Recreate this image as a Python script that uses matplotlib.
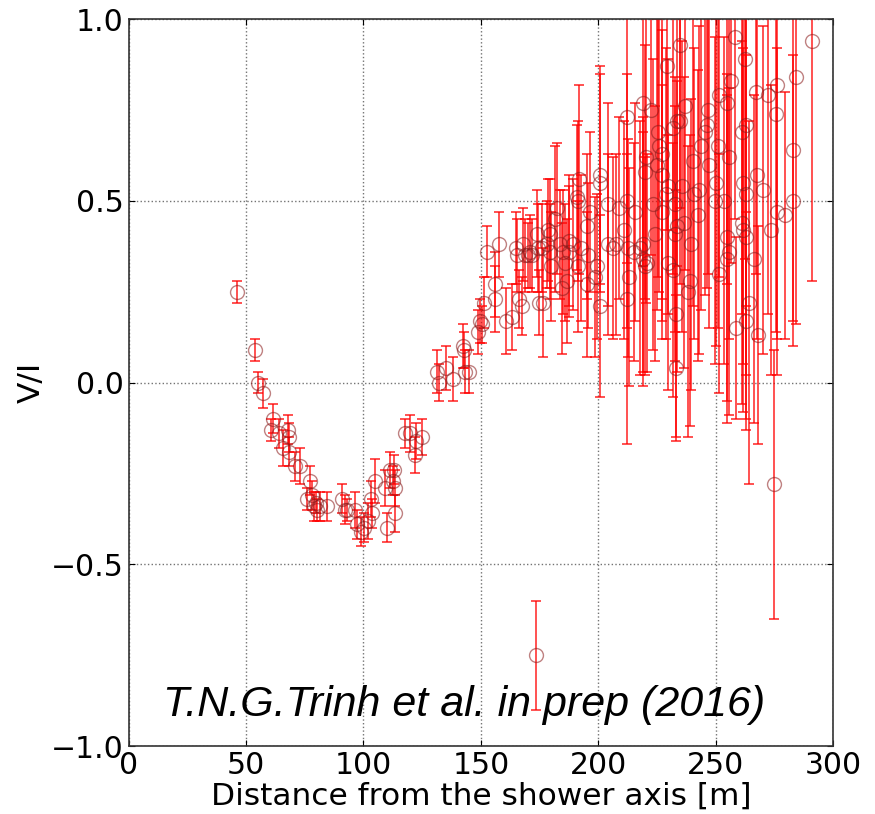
import matplotlib
matplotlib.use("Agg")
import matplotlib.pyplot as plt

# distance from shower axis [m], V/I ratio and its uncertainty
dist = [
    46.0, 53.7, 55.0, 57.1, 61.4, 60.5, 63.9, 65.6, 67.7, 68.2, 68.2, 70.7, 72.9, 75.8, 77.1,
    78.0, 78.8, 79.7, 80.1, 81.4, 84.4, 90.8, 92.0, 92.9, 96.3, 97.2, 98.9, 100.1, 101.8, 103.1,
    103.5, 104.8, 109.1, 109.9, 111.2, 112.5, 113.3, 112.9, 113.3, 117.6, 119.7, 121.9, 122.3, 124.8,
    131.2, 132.1, 135.1, 138.1, 142.3, 142.7, 143.2, 144.9, 148.7, 149.6, 150.4, 151.3, 152.5, 156.0,
    156.0, 157.7, 160.6, 163.2, 164.9, 165.3, 166.2, 167.5, 167.9, 168.7, 170.0, 173.8, 174.7, 173.4,
    170.9, 171.7, 174.3, 176.0, 176.4, 178.1, 178.5, 179.4, 179.4, 179.8, 181.5, 182.4, 183.6, 184.5,
    184.9, 185.8, 186.6, 187.5, 187.5, 189.2, 190.9, 191.3, 191.7, 191.3, 192.6, 195.2, 195.2, 195.6,
    196.4, 198.6, 199.4, 200.7, 200.7, 200.7, 204.1, 204.1, 206.2, 207.5, 208.8, 210.9, 212.2, 212.2,
    212.2, 212.6, 213.1, 215.2, 215.6, 217.7, 219.0, 219.0, 219.0, 219.9, 219.9, 220.3, 220.7, 222.4,
    223.3, 224.1, 225.0, 225.4, 225.8, 227.1, 227.1, 227.1, 228.8, 229.2, 229.7, 229.7, 231.8, 231.8,
    232.7, 232.7, 233.1, 233.1, 233.5, 233.5,
    234.8, 234.8, 235.6, 236.5, 236.9, 238.2, 239.0, 239.5, 240.3, 240.7, 242.5, 242.9, 243.7, 245.4,
    246.3, 246.7, 247.1, 249.7, 250.1, 251.0, 251.4, 251.4, 253.5, 254.8, 254.8, 254.8, 255.7, 255.7,
    256.5, 258.2, 258.6, 261.2, 261.2, 261.6, 261.6, 262.5, 262.9, 262.9, 262.9, 262.9, 264.2, 266.3,
    267.2, 267.6, 268.0, 270.2, 272.3, 273.6, 275.7, 276.1, 276.1, 279.5, 282.9, 282.9, 284.2, 291.0,
    274.8,
]
ratio = [
    0.25, 0.09, 0.00, -0.03, -0.10, -0.13, -0.14, -0.18, -0.13, -0.15, -0.19, -0.23, -0.23, -0.32, -0.27,
    -0.31, -0.34, -0.33, -0.35, -0.34, -0.34, -0.32, -0.35, -0.35, -0.35, -0.39, -0.41, -0.40, -0.38, -0.32,
    -0.36, -0.27, -0.29, -0.40, -0.24, -0.27, -0.29, -0.24, -0.36, -0.14, -0.14, -0.20, -0.16, -0.15,
    0.03, 0.00, 0.04, 0.01, 0.10, 0.09, 0.03, 0.03, 0.14, 0.17, 0.16, 0.22, 0.36, 0.27,
    0.23, 0.38, 0.17, 0.18, 0.37, 0.35, 0.23, 0.21, 0.38, 0.35, 0.35, 0.41, 0.22, -0.75,
    0.36, 0.35, 0.37, 0.37, 0.22, 0.38, 0.42, 0.41, 0.36, 0.32, 0.45, 0.48, 0.38, 0.26,
    0.36, 0.33, 0.28, 0.39, 0.36, 0.38, 0.51, 0.50, 0.56, 0.32, 0.37, 0.43, 0.27, 0.35,
    0.47, 0.29, 0.32, 0.57, 0.55, 0.21, 0.49, 0.38, 0.37, 0.38, 0.48, 0.42, 0.73, 0.50,
    0.23, 0.37, 0.29, 0.36, 0.47, 0.37, 0.77, 0.38, 0.34, 0.32, 0.58, 0.62, 0.33, 0.75,
    0.49, 0.41, 0.60, 0.69, 0.65, 0.63, 0.57, 0.47, 0.52, 0.87, 0.54, 0.33, 0.70, 0.31,
    0.49, 0.41, 0.19, 0.04, 0.72, 0.43,
    0.93, 0.72, 0.54, 0.44, 0.76, 0.25, 0.28, 0.38, 0.61, 0.52, 0.46, 0.53, 0.65, 0.69,
    0.71, 0.75, 0.60, 0.50, 0.55, 0.65, 0.79, 0.30, 0.50, 0.77, 0.40, 0.34, 0.62, 0.36,
    0.83, 0.95, 0.15, 0.69, 0.44, 0.55, 0.42, 0.89, 0.71, 0.17, 0.52, 0.40, 0.22, 0.34,
    0.80, 0.57, 0.13, 0.53, 0.79, 0.42, 0.74, 0.82, 0.47, 0.46, 0.64, 0.50, 0.84, 0.94,
    -0.28,
]
ratio_err = [
    0.03, 0.03, 0.03, 0.04, 0.04, 0.03, 0.04, 0.05, 0.04, 0.04, 0.04, 0.04, 0.05, 0.03, 0.04,
    0.04, 0.04, 0.03, 0.03, 0.04, 0.04, 0.04, 0.04, 0.03, 0.05, 0.04, 0.04, 0.04, 0.05, 0.05,
    0.04, 0.06, 0.05, 0.04, 0.05, 0.04, 0.05, 0.04, 0.05, 0.04, 0.05, 0.05, 0.05, 0.05,
    0.06, 0.05, 0.06, 0.06, 0.06, 0.05, 0.06, 0.06, 0.06, 0.06, 0.05, 0.07, 0.07, 0.09,
    0.09, 0.09, 0.09, 0.09, 0.10, 0.10, 0.08, 0.08, 0.10, 0.10, 0.09, 0.12, 0.09, 0.15,
    0.10, 0.10, 0.12, 0.12, 0.15, 0.12, 0.14, 0.15, 0.13, 0.15, 0.20, 0.18, 0.15, 0.18,
    0.17, 0.16, 0.17, 0.18, 0.18, 0.18, 0.20, 0.22, 0.26, 0.18, 0.20, 0.20, 0.20, 0.20,
    0.22, 0.22, 0.20, 0.30, 0.30, 0.25, 0.28, 0.25, 0.25, 0.25, 0.25, 0.30, 0.40, 0.35,
    0.40, 0.30, 0.30, 0.30, 0.30, 0.35, 0.45, 0.35, 0.35, 0.30, 0.35, 0.40, 0.30, 0.40,
    0.40, 0.35, 0.40, 0.40, 0.40, 0.40, 0.40, 0.35, 0.40, 0.45, 0.35, 0.35, 0.40, 0.35,
    0.35, 0.35, 0.34, 0.20, 0.40, 0.40,
    0.45, 0.45, 0.40, 0.40, 0.45, 0.40, 0.40, 0.40, 0.40, 0.40, 0.40, 0.45, 0.45, 0.45,
    0.45, 0.45, 0.45, 0.45, 0.45, 0.50, 0.50, 0.33, 0.45, 0.50, 0.45, 0.45, 0.50, 0.45,
    0.50, 0.50, 0.25, 0.50, 0.50, 0.50, 0.50, 0.55, 0.50, 0.30, 0.50, 0.50, 0.50, 0.45,
    0.50, 0.45, 0.30, 0.45, 0.60, 0.40, 0.60, 0.70, 0.45, 0.34, 0.47, 0.40, 0.68, 0.66,
    0.37,
]

fig = plt.figure(figsize=(8.75, 8.14), dpi=100)
ax = fig.add_axes([0.147, 0.0835, 0.805, 0.893])

ax.errorbar(dist, ratio, yerr=ratio_err, fmt="none", ecolor="red", elinewidth=1.2,
            capsize=3.5, capthick=1.2, alpha=0.8, zorder=2)
ax.plot(dist, ratio, "o", ms=10, mfc="none", mec="#8b1a1a", mew=1.0, alpha=0.55, zorder=3)

ax.set_xlim(0, 300)
ax.set_ylim(-1.0, 1.0)
ax.set_xticks([0, 50, 100, 150, 200, 250, 300])
ax.set_yticks([-1.0, -0.5, 0.0, 0.5, 1.0])
ax.grid(True, color="0.45", linestyle=":", linewidth=1.0)
ax.tick_params(direction="in", top=True, right=True, labelsize=21.5, length=4)
for s in ax.spines.values():
    s.set_color("0.2")
    s.set_linewidth(1.2)

ax.set_xlabel("Distance from the shower axis [m]", fontsize=22.5, labelpad=1)
ax.set_ylabel("V/I", fontsize=22.5, labelpad=4)

ax.text(0.477, 0.056, "T.N.G.Trinh et al. in prep (2016)", transform=ax.transAxes,
        ha="center", va="center", fontsize=31, style="italic", family="Liberation Sans")

fig.savefig("out.png", dpi=100)
